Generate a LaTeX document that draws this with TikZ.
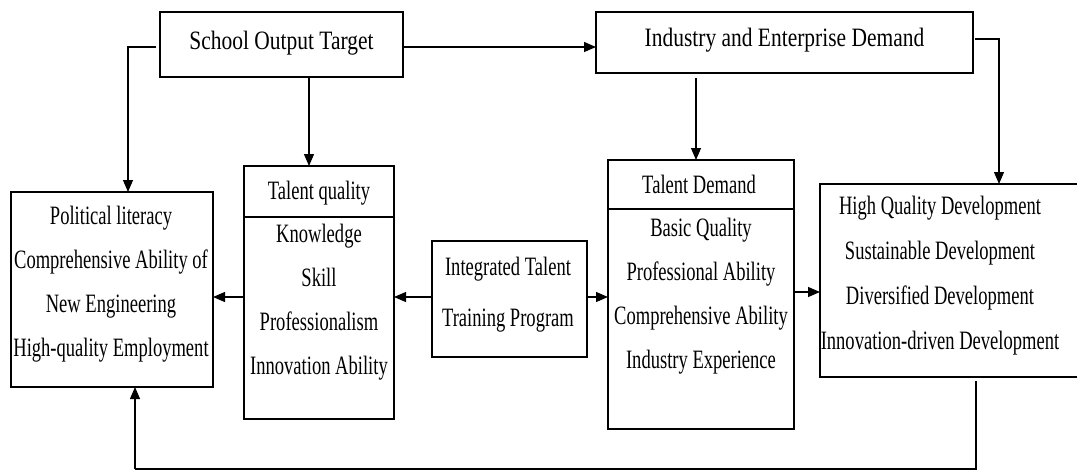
\documentclass[tikz,border=0pt]{standalone}
\usepackage{fontspec}
\setmainfont{Liberation Serif}
\newfontfamily\hdrfont[FakeStretch=0.81]{Liberation Serif}
\newfontfamily\bdyfont[FakeStretch=0.70]{Liberation Serif}
\usetikzlibrary{arrows.meta}
\begin{document}
\begin{tikzpicture}[x=1pt,y=-1pt,
  box/.style={draw=black,line width=1.1pt,inner sep=0pt,outer sep=0pt},
  hdr/.style={inner sep=0pt,align=center,font={\hdrfont\fontsize{26.5}{44}\selectfont}},
  bdy/.style={inner sep=0pt,align=center,font={\bdyfont\fontsize{26.5}{44}\selectfont}},
  arr/.style={draw=black,line width=1.1pt,-{Triangle[length=12pt,width=10pt]}},
  ln/.style={draw=black,line width=1.1pt}]
\useasboundingbox (0,0) rectangle (1077,472);
% boxes
\node[box,minimum width=243pt,minimum height=65pt] (S) at (281.5,44.5) {};
\node[box,minimum width=377pt,minimum height=61pt] (I) at (784.5,42.5) {};
\node[box,minimum width=202pt,minimum height=195pt] (L) at (112,289.5) {};
\node[box,minimum width=150pt,minimum height=253pt] (TQ) at (319,292.5) {};
\node[box,minimum width=155pt,minimum height=116pt] (IT) at (509.5,299) {};
\node[box,minimum width=186pt,minimum height=269pt] (TD) at (701,294.5) {};
\node[box,minimum width=262pt,minimum height=193pt] (R) at (951,280.5) {};
% dividers
\draw[ln] ([yshift=-51pt]TQ.north west) -- ([yshift=-51pt]TQ.north east);
\draw[ln] ([yshift=-49pt]TD.north west) -- ([yshift=-49pt]TD.north east);
% texts
\node[hdr] (tS) at (281.5,43) {School Output Target};
\node[hdr] (tI) at (784.5,40) {Industry and Enterprise Demand};
\node[bdy] (tL) at (111,284.5) {Political literacy\\Comprehensive Ability of\\New Engineering\\High-quality Employment};
\node[bdy] (tTQh) at (319,193) {Talent quality};
\node[bdy] (tTQ) at (319,302.5) {Knowledge\\Skill\\Professionalism\\Innovation Ability};
\node[bdy,font={\bdyfont\fontsize{26.5}{51}\selectfont}] (tIT) at (508,294.5) {Integrated Talent\\Training Program};
\node[bdy] (tTDh) at (699,184) {Talent Demand};
\node[bdy] (tTD) at (701,296) {Basic Quality\\Professional Ability\\Comprehensive Ability\\Industry Experience};
\node[bdy,font={\bdyfont\fontsize{26.5}{45}\selectfont}] (tR) at (940,275.5) {High Quality Development\\Sustainable Development\\Diversified Development\\Innovation-driven Development};
% coordinates
\coordinate (fb) at (135,469);
\coordinate (k2) at (999,39);
% connectors
\draw[arr] ([xshift=-4pt,yshift=-2.5pt]S.west) -| ([xshift=16pt]L.north);
\draw[arr] ([xshift=27.5pt]S.south) -- ([xshift=-10pt]TQ.north);
\draw[arr] ([yshift=-2.5pt]S.east) -- ([yshift=-2.5pt]S.east -| I.west);
\draw[arr] ([xshift=-88.5pt,yshift=-5pt]I.south) -- ([xshift=-5pt]TD.north);
\draw[arr] ([xshift=2pt,yshift=3.5pt]I.east) -| (R.north -| k2);
\draw[arr] ([yshift=-4.5pt]TQ.west) -- ([yshift=-4.5pt]TQ.west -| L.east);
\draw[arr] ([yshift=2pt]IT.west) -- ([yshift=2pt]IT.west -| TQ.east);
\draw[arr] ([yshift=2pt]IT.east) -- ([yshift=2pt]IT.east -| TD.west);
\draw[arr] ([yshift=2.5pt]TD.east) -- ([yshift=2.5pt]TD.east -| R.west);
\draw[ln] ([xshift=25pt,yshift=-4pt]R.south) |- (fb);
\draw[arr] (fb) -- (L.south -| fb);
\end{tikzpicture}
\end{document}
